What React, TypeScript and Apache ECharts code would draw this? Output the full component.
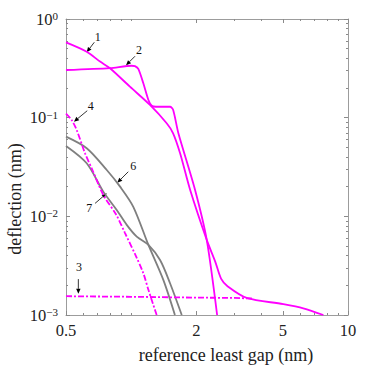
import React, { useEffect, useRef } from "react";
import * as echarts from "echarts";

// ---- data (log-log) ----
const curve1: number[][] = [
  [0.5, 0.58], [0.623, 0.466], [0.718, 0.37], [0.798, 0.317], [0.986, 0.206],
  [1.22, 0.1345], [1.457, 0.0877], [1.56, 0.0695], [1.68, 0.0436], [1.87, 0.0185],
  [2.23, 0.00577], [2.44, 0.00348], [2.6, 0.00232], [2.78, 0.00196], [3.41, 0.00149],
  [5.03, 0.00129], [6.22, 0.00117], [7.7, 0.001],
];
const curve2: number[][] = [
  [0.5, 0.304], [0.798, 0.318], [1.005, 0.336], [1.04, 0.333], [1.078, 0.312],
  [1.137, 0.223], [1.2, 0.151], [1.243, 0.132], [1.3, 0.129], [1.51, 0.129],
  [1.56, 0.12], [1.65, 0.0695], [1.97, 0.0185], [2.23, 0.00577], [2.49, 0.001],
];
const curve3: number[][] = [
  [0.5, 0.00155], [1, 0.00153], [2, 0.0015], [3, 0.00149], [3.6, 0.00147],
];
const curve4: number[][] = [
  [0.5, 0.11], [0.531, 0.0946], [0.56, 0.075], [0.612, 0.0436], [0.66, 0.03],
  [0.743, 0.0165], [0.85, 0.0105], [0.935, 0.0068], [1.06, 0.0038], [1.137, 0.00265],
  [1.2, 0.0018], [1.31, 0.001],
];
const curve6: number[][] = [
  [0.5, 0.0642], [0.623, 0.049], [0.771, 0.0295], [0.888, 0.02], [1.022, 0.0125],
  [1.2, 0.00513], [1.406, 0.00227], [1.59, 0.001],
];
const curve7: number[][] = [
  [0.5, 0.0517], [0.623, 0.0345], [0.743, 0.0178], [0.857, 0.0116], [0.953, 0.0082],
  [1.06, 0.00623], [1.2, 0.00513], [1.358, 0.00361], [1.51, 0.0021], [1.71, 0.001],
];

const xLabelValues = [0.5, 2, 5, 10];
const xMinorValues = [0.6, 0.7, 0.8, 0.9, 1, 3, 4, 6, 7, 8, 9];
const yLabelValues = [0.001, 0.01, 0.1, 1];
const yMinorValues = [
  0.002, 0.003, 0.004, 0.005, 0.006, 0.007, 0.008, 0.009,
  0.02, 0.03, 0.04, 0.05, 0.06, 0.07, 0.08, 0.09,
  0.2, 0.3, 0.4, 0.5, 0.6, 0.7, 0.8, 0.9,
];

const xTitle = "reference least gap (nm)";
const yTitle = "deflection (nm)";

// annotation: label, tip (data), tail offset (px), text offset (px)
const annotations = [
  { label: "1", tip: [0.623, 0.46], tail: [7.6, -10], text: [11, -15.4] },
  { label: "2", tip: [0.946, 0.34], tail: [9, -9], text: [13, -15.7] },
  { label: "4", tip: [0.544, 0.091], tail: [13.3, -11], text: [16.7, -15.7] },
  { label: "6", tip: [0.862, 0.0219], tail: [11, -11], text: [16, -16.7] },
  { label: "7", tip: [0.771, 0.0171], tail: [-11.7, 10], text: [-17.4, 15] },
  { label: "3", tip: [0.57, 0.00164], tail: [0, -14.7], text: [0.7, -27.3] },
];

const FONT = "'Liberation Serif', 'DejaVu Serif', serif";
const AXIS_COLOR = "#9c9c9c";
const TICK_COLOR = "#8a8a8a";
const MAGENTA = "#ff00ff";
const GRAY = "#7f7f7f";

function fmtX(v: number) {
  return String(Number(v.toPrecision(6)));
}
function fmtY(v: number) {
  const e = Math.round(Math.log10(v));
  const s = e < 0 ? "\u2212" + String(-e) : String(e);
  return "{b|10}{s|" + s + "}";
}

function mkX(position: string, ticks: number[], len: number, main: boolean) {
  return {
    type: "log", logBase: 10, min: 0.5, max: 10, position,
    axisLine: { show: main, onZero: false, lineStyle: { color: AXIS_COLOR, width: 1 } },
    axisTick: { show: true, inside: true, length: len, customValues: ticks, lineStyle: { color: TICK_COLOR, width: 1 } },
    axisLabel: main && position === "bottom"
      ? { show: true, customValues: xLabelValues, margin: 7, color: "#222", fontFamily: FONT, fontSize: 16.5, formatter: fmtX }
      : { show: false },
    splitLine: { show: false }, minorTick: { show: false }, minorSplitLine: { show: false },
  };
}
function mkY(position: string, ticks: number[], len: number, main: boolean) {
  return {
    type: "log", logBase: 10, min: 0.001, max: 1, position,
    axisLine: { show: main, onZero: false, lineStyle: { color: AXIS_COLOR, width: 1 } },
    axisTick: { show: true, inside: true, length: len, customValues: ticks, lineStyle: { color: TICK_COLOR, width: 1 } },
    axisLabel: main && position === "left"
      ? {
          show: true, customValues: yLabelValues, margin: 8, color: "#222", formatter: fmtY,
          rich: {
            b: { fontFamily: FONT, fontSize: 16.5, color: "#222" },
            s: { fontFamily: FONT, fontSize: 11, color: "#222", verticalAlign: "top", padding: [0, 0, 2, 0] },
          },
        }
      : { show: false },
    splitLine: { show: false }, minorTick: { show: false }, minorSplitLine: { show: false },
  };
}

function mkSeries(name: string, data: number[][], color: string, dashed: boolean, smooth: number) {
  return {
    name, type: "line", data, xAxisIndex: 0, yAxisIndex: 0,
    showSymbol: false, symbol: "none", smooth, silent: true,
    lineStyle: { color, width: 1.8, type: dashed ? [6, 2, 2, 2] : "solid" },
  };
}

export default function App() {
  const ref = useRef<HTMLDivElement>(null);
  useEffect(() => {
    document.body.style.margin = "0";
    if (!ref.current) return;
    const chart = echarts.init(ref.current, undefined, { renderer: "svg" });
    chart.setOption({
      animation: false,
      backgroundColor: "#ffffff",
      grid: { left: 66, top: 19, right: 28, bottom: 67, containLabel: false },
      xAxis: [
        mkX("bottom", xLabelValues, 4, true),
        mkX("bottom", xMinorValues, 2, false),
        mkX("top", xLabelValues, 4, true),
        mkX("top", xMinorValues, 2, false),
      ],
      yAxis: [
        mkY("left", yLabelValues, 4, true),
        mkY("left", yMinorValues, 2, false),
        mkY("right", yLabelValues, 4, true),
        mkY("right", yMinorValues, 2, false),
      ],
      series: [
        mkSeries("6", curve6, GRAY, false, 0.3),
        mkSeries("7", curve7, GRAY, false, 0.3),
        mkSeries("3", curve3, MAGENTA, true, 0),
        mkSeries("4", curve4, MAGENTA, true, 0.3),
        mkSeries("2", curve2, MAGENTA, false, 0.25),
        mkSeries("1", curve1, MAGENTA, false, 0.3),
      ],
    });

    const g: any[] = [];
    annotations.forEach((a) => {
      const p = chart.convertToPixel({ xAxisIndex: 0, yAxisIndex: 0 }, a.tip) as number[];
      const tx = p[0] + a.tail[0];
      const ty = p[1] + a.tail[1];
      const dx = p[0] - tx;
      const dy = p[1] - ty;
      const L = Math.sqrt(dx * dx + dy * dy) || 1;
      const ux = dx / L, uy = dy / L;
      const nx = -uy, ny = ux;
      const hl = 5, hw = 2.2;
      const bx = p[0] - ux * hl, by = p[1] - uy * hl;
      g.push({
        type: "line", silent: true,
        shape: { x1: tx, y1: ty, x2: bx, y2: by },
        style: { stroke: "#000", lineWidth: 0.8 },
      });
      g.push({
        type: "polygon", silent: true,
        shape: { points: [[p[0], p[1]], [bx + nx * hw, by + ny * hw], [bx - nx * hw, by - ny * hw]] },
        style: { fill: "#000" },
      });
      g.push({
        type: "text", silent: true, x: p[0] + a.text[0], y: p[1] + a.text[1],
        style: { text: a.label, fill: "#111", fontFamily: FONT, fontSize: 12, align: "center", verticalAlign: "middle" },
      });
    });
    g.push({
      type: "text", silent: true, x: 226, y: 355,
      style: { text: xTitle, fill: "#222", fontFamily: FONT, fontSize: 18, align: "center", verticalAlign: "middle" },
    });
    g.push({
      type: "text", silent: true, x: 15, y: 199, rotation: Math.PI / 2,
      style: { text: yTitle, fill: "#222", fontFamily: FONT, fontSize: 18, align: "center", verticalAlign: "middle" },
    });
    chart.setOption({ graphic: g });

    return () => chart.dispose();
  }, []);
  return <div ref={ref} style={{ width: 376, height: 382 }} />;
}
